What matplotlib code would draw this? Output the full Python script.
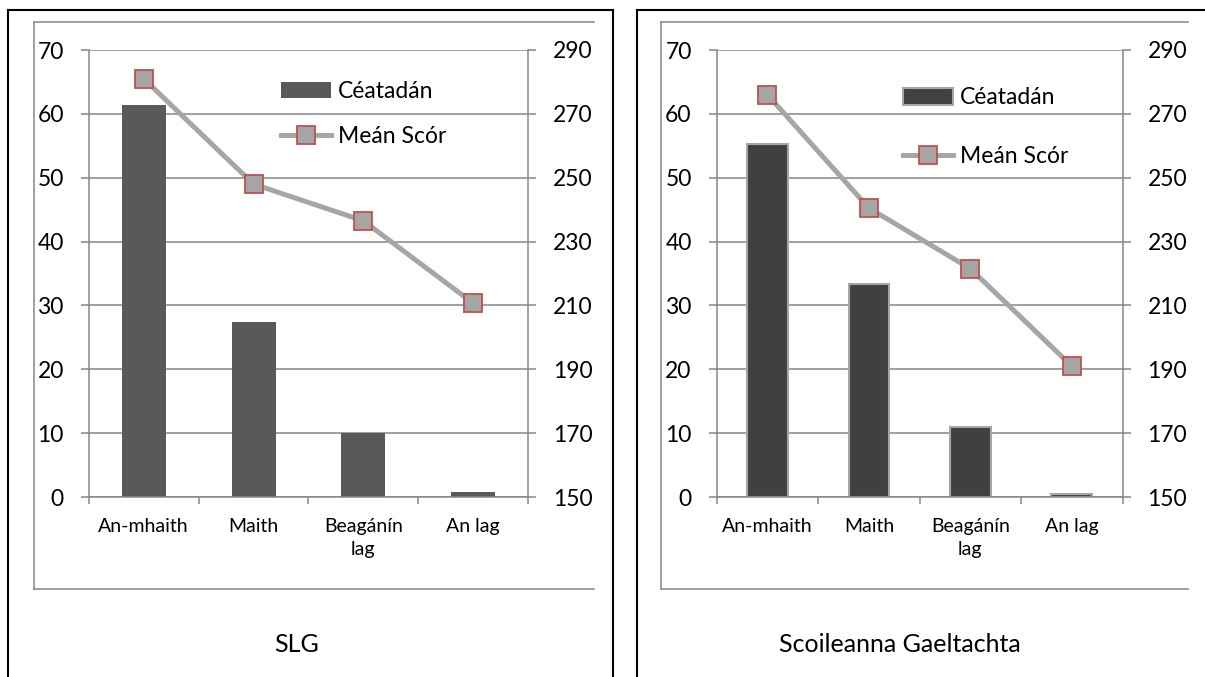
import matplotlib
matplotlib.use("Agg")
import matplotlib.pyplot as plt
from matplotlib.lines import Line2D

plt.rcParams["font.family"] = ["Lato", "DejaVu Sans"]

# --- data ---
categories = ["An-mhaith", "Maith", "Beagánín\nlag", "An lag"]
slg_pct = [61.4, 27.4, 10.1, 0.8]
slg_score = [281.0, 248.0, 236.5, 210.7]
gael_pct = [55.3, 33.3, 10.9, 0.4]
gael_score = [276.0, 240.5, 221.5, 191.0]
titles = ["SLG", "Scoileanna Gaeltachta"]

W, H = 1205, 677
GRID = "#868686"
fig = plt.figure(figsize=(W / 100, H / 100), dpi=100)


def fx(px):
    return px / W


def fy(py):
    return 1 - py / H


def frame(x0, x1, ix0, ix1):
    # outer black box (runs off the bottom/right of the image)
    fig.add_artist(Line2D([fx(x0), fx(x0)], [fy(10), fy(700)], color="black", lw=1.5))
    fig.add_artist(Line2D([fx(x0), fx(x1)], [fy(10), fy(10)], color="black", lw=1.5))
    fig.add_artist(Line2D([fx(x1), fx(x1)], [fy(10), fy(700)], color="black", lw=1.5))
    # inner gray chart-area box (top, left, bottom)
    fig.add_artist(Line2D([fx(ix0), fx(ix1)], [fy(21.5), fy(21.5)], color=GRID, lw=1.1))
    fig.add_artist(Line2D([fx(ix0), fx(ix0)], [fy(21.5), fy(589)], color=GRID, lw=1.1))
    fig.add_artist(Line2D([fx(ix0), fx(ix1)], [fy(589), fy(589)], color=GRID, lw=1.1))


def panel(px0, px1, pct, score, bar_kw, title, title_x, leg_xy, leg_space):
    ax = fig.add_axes([fx(px0), fy(497), fx(px1) - fx(px0), fy(50) - fy(497)])
    x = list(range(len(categories)))
    bars = ax.bar(x, pct, width=0.4, label="Céatadán", zorder=2, **bar_kw)
    ax.set_xlim(-0.5, 3.5)
    ax.set_ylim(0, 70)
    ax.set_yticks(range(0, 71, 10))
    ax.set_axisbelow(True)
    ax.yaxis.grid(True, color=GRID, lw=1.1)
    for s in ["left", "bottom", "right"]:
        ax.spines[s].set_color(GRID)
        ax.spines[s].set_linewidth(1.1)
    ax.spines["top"].set_visible(False)
    ax.tick_params(axis="y", length=6, width=1.1, color=GRID, pad=12, labelsize=16.5)
    ax.set_xticks([-0.5, 0.5, 1.5, 2.5, 3.5])
    ax.set_xticklabels([])
    ax.tick_params(axis="x", which="major", length=5, width=1.1, color=GRID)
    ax.set_xticks(x, minor=True)
    ax.set_xticklabels(categories, minor=True, fontsize=14, linespacing=1.45)
    ax.tick_params(axis="x", which="minor", length=0, pad=15)

    ax2 = ax.twinx()
    ln, = ax2.plot(x, score, color="#a6a6a6", lw=3.6, marker="s", markersize=13,
                   markerfacecolor="#a5a5a5", markeredgecolor="#c0504d",
                   markeredgewidth=1.3, label="Meán Scór", zorder=3)
    ax2.set_ylim(150, 290)
    ax2.set_yticks(range(150, 291, 20))
    for s in ax2.spines.values():
        s.set_visible(False)
    ax2.tick_params(axis="y", length=6, width=1.1, color=GRID, pad=12, labelsize=16.5)

    ax2.legend([bars, ln], ["Céatadán", "Meán Scór"], loc="upper left",
               bbox_to_anchor=(fx(leg_xy[0]), fy(leg_xy[1])),
               bbox_transform=fig.transFigure, frameon=False, fontsize=16.5,
               borderpad=0, borderaxespad=0, handlelength=2.2,
               handletextpad=0.3, labelspacing=leg_space)
    fig.text(fx(title_x), fy(645), title, ha="center", va="center", fontsize=18)


frame(8.4, 613.3, 33.7, 593.7)
frame(636.7, 1230, 660.7, 1187.7)

panel(88.8, 528.1, slg_pct, slg_score, dict(color="#595959"),
      titles[0], 297, (280.5, 81), 1.05)
panel(716.7, 1122.5, gael_pct, gael_score,
      dict(color="#404040", edgecolor="#a6a6a6", linewidth=1.5),
      titles[1], 900, (902.7, 87.5), 1.65)

fig.savefig("out.png", dpi=100)
